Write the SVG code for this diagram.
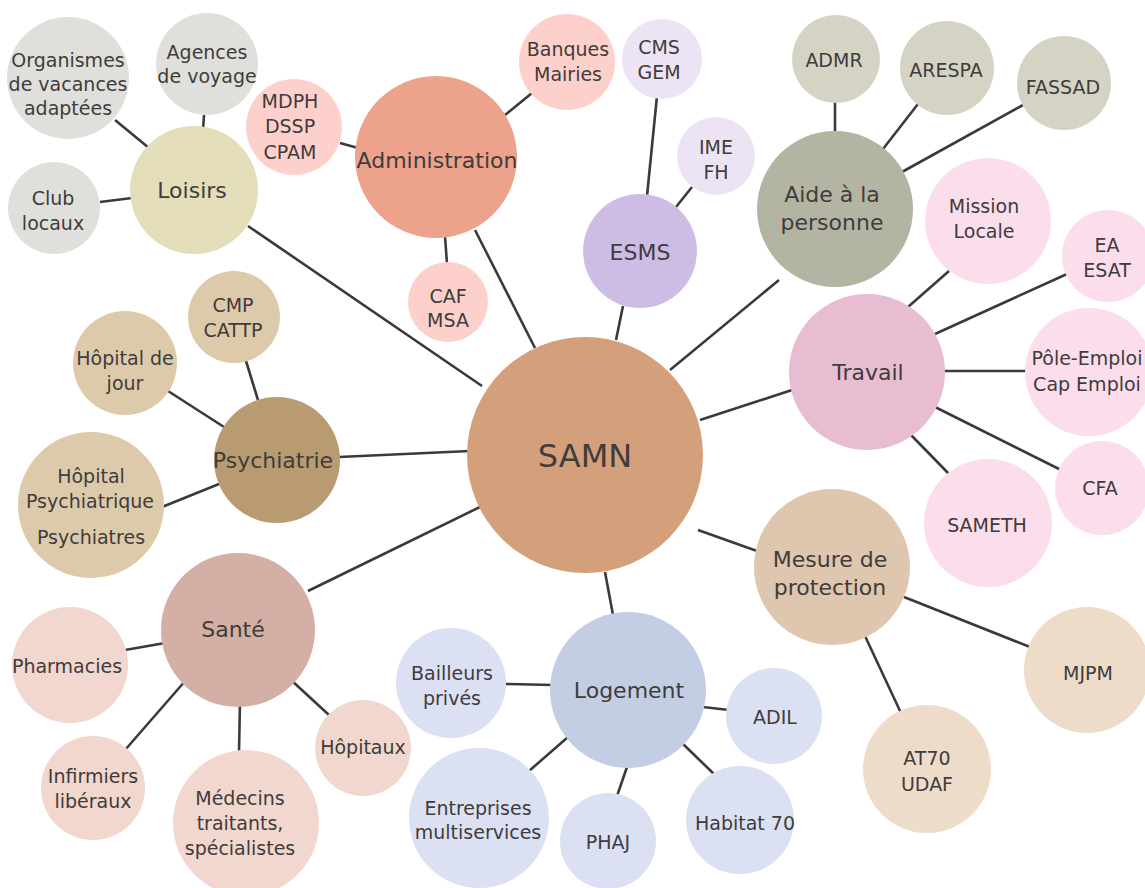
<svg xmlns="http://www.w3.org/2000/svg" width="1145" height="888" viewBox="0 0 1145 888">
<style>
.c line{stroke:#3a3a3a;stroke-width:2.6;stroke-linecap:butt}
text{font-family:"DejaVu Sans","Liberation Sans",sans-serif;fill:#3f3c3c;text-anchor:middle}
.h text{font-size:22px}
.l text{font-size:19px}
</style>
<rect width="1145" height="888" fill="#ffffff"/>
<g class="c" id="connectors">
<line x1="248" y1="226" x2="482" y2="386"/>
<line x1="475" y1="230" x2="535" y2="348"/>
<line x1="623" y1="306" x2="616" y2="340"/>
<line x1="779" y1="280" x2="670" y2="370"/>
<line x1="792" y1="390" x2="700" y2="420"/>
<line x1="757" y1="551" x2="698" y2="530"/>
<line x1="613" y1="615" x2="605" y2="572"/>
<line x1="308" y1="591" x2="482" y2="506"/>
<line x1="339" y1="457" x2="470" y2="451"/>
<line x1="115" y1="120" x2="149" y2="148"/>
<line x1="204" y1="115" x2="203" y2="130"/>
<line x1="100" y1="202" x2="132" y2="198"/>
<line x1="340" y1="143" x2="358" y2="148"/>
<line x1="505" y1="115" x2="532" y2="93"/>
<line x1="445" y1="236" x2="447" y2="264"/>
<line x1="657" y1="96" x2="647" y2="196"/>
<line x1="692" y1="187" x2="676" y2="207"/>
<line x1="835" y1="101" x2="835" y2="133"/>
<line x1="918" y1="104" x2="883" y2="149"/>
<line x1="1023" y1="105" x2="902" y2="172"/>
<line x1="949" y1="271" x2="908" y2="307"/>
<line x1="1067" y1="274" x2="935" y2="334"/>
<line x1="944" y1="371" x2="1027" y2="371"/>
<line x1="935" y1="407" x2="1061" y2="470"/>
<line x1="911" y1="435" x2="950" y2="475"/>
<line x1="904" y1="597" x2="1030" y2="647"/>
<line x1="865" y1="636" x2="901" y2="713"/>
<line x1="506" y1="684" x2="553" y2="685"/>
<line x1="703" y1="707" x2="729" y2="710"/>
<line x1="529" y1="771" x2="568" y2="737"/>
<line x1="617" y1="796" x2="627" y2="767"/>
<line x1="683" y1="744" x2="715" y2="775"/>
<line x1="125" y1="650" x2="165" y2="643"/>
<line x1="125" y1="750" x2="186" y2="680"/>
<line x1="239" y1="752" x2="240" y2="701"/>
<line x1="329" y1="715" x2="291" y2="680"/>
<line x1="246" y1="361" x2="258" y2="400"/>
<line x1="168" y1="391" x2="224" y2="427"/>
<line x1="162" y1="507" x2="219" y2="484"/>
</g>

<g id="samn"><circle cx="585" cy="455" r="118" fill="#D3A07B"/><text x="585" y="467" style="font-size:32px">SAMN</text></g>

<g id="loisirs" class="h"><circle cx="194" cy="190" r="64" fill="#E3DEB9"/><text x="192" y="198">Loisirs</text></g>
<g id="organismes" class="l"><circle cx="68" cy="78" r="61" fill="#DFDFDB"/><text x="68" y="67">Organismes</text><text x="68" y="91">de vacances</text><text x="68" y="115">adaptées</text></g>
<g id="agences" class="l"><circle cx="207" cy="64" r="51" fill="#DFDFDB"/><text x="207" y="59">Agences</text><text x="207" y="83">de voyage</text></g>
<g id="club" class="l"><circle cx="54" cy="208" r="46" fill="#DFDFDB"/><text x="53" y="205">Club</text><text x="53" y="230">locaux</text></g>

<g id="administration" class="h"><circle cx="436" cy="157" r="81" fill="#EDA28B"/><text x="437" y="168">Administration</text></g>
<g id="mdph" class="l"><circle cx="294" cy="127" r="48" fill="#FDD0CB"/><text x="290" y="108">MDPH</text><text x="290" y="133">DSSP</text><text x="290" y="159">CPAM</text></g>
<g id="banques" class="l"><circle cx="567" cy="62" r="48" fill="#FDD0CB"/><text x="568" y="56">Banques</text><text x="568" y="81">Mairies</text></g>
<g id="caf" class="l"><circle cx="448" cy="302" r="40" fill="#FDD0CB"/><text x="448" y="303">CAF</text><text x="448" y="327">MSA</text></g>

<g id="esms" class="h"><circle cx="640" cy="251" r="57" fill="#CDBDE5"/><text x="640" y="260">ESMS</text></g>
<g id="cms" class="l"><circle cx="662" cy="59" r="40" fill="#ECE3F5"/><text x="659" y="54">CMS</text><text x="659" y="79">GEM</text></g>
<g id="ime" class="l"><circle cx="716" cy="156" r="39" fill="#ECE3F5"/><text x="716" y="154">IME</text><text x="716" y="179">FH</text></g>

<g id="aide" class="h"><circle cx="835" cy="209" r="78" fill="#B4B4A2"/><text x="832" y="202">Aide à la</text><text x="832" y="230">personne</text></g>
<g id="admr" class="l"><circle cx="836" cy="59" r="44" fill="#D5D4C4"/><text x="834" y="67">ADMR</text></g>
<g id="arespa" class="l"><circle cx="947" cy="68" r="47" fill="#D5D4C4"/><text x="946" y="77">ARESPA</text></g>
<g id="fassad" class="l"><circle cx="1064" cy="83" r="47" fill="#D5D4C4"/><text x="1063" y="94">FASSAD</text></g>

<g id="travail" class="h"><circle cx="867" cy="372" r="78" fill="#E8BDD1"/><text x="868" y="380">Travail</text></g>
<g id="mission" class="l"><circle cx="988" cy="221" r="63" fill="#FCDDEB"/><text x="984" y="213">Mission</text><text x="984" y="238">Locale</text></g>
<g id="ea" class="l"><circle cx="1108" cy="256" r="46" fill="#FCDDEB"/><text x="1107" y="252">EA</text><text x="1107" y="277">ESAT</text></g>
<g id="pole" class="l"><circle cx="1089" cy="372" r="64" fill="#FCDDEB"/><text x="1087" y="365">Pôle-Emploi</text><text x="1087" y="391">Cap Emploi</text></g>
<g id="cfa" class="l"><circle cx="1102" cy="488" r="47" fill="#FCDDEB"/><text x="1100" y="495">CFA</text></g>
<g id="sameth" class="l"><circle cx="988" cy="523" r="64" fill="#FCDDEB"/><text x="987" y="532">SAMETH</text></g>

<g id="mesure" class="h"><circle cx="832" cy="567" r="78" fill="#DEC6AF"/><text x="830" y="567">Mesure de</text><text x="830" y="595">protection</text></g>
<g id="mjpm" class="l"><circle cx="1087" cy="670" r="63" fill="#EEDCCB"/><text x="1088" y="680">MJPM</text></g>
<g id="at70" class="l"><circle cx="927" cy="769" r="64" fill="#EEDCCB"/><text x="927" y="765">AT70</text><text x="927" y="791">UDAF</text></g>

<g id="logement" class="h"><circle cx="628" cy="690" r="78" fill="#C3CDE3"/><text x="629" y="698">Logement</text></g>
<g id="bailleurs" class="l"><circle cx="451" cy="683" r="55" fill="#DBE1F3"/><text x="452" y="680">Bailleurs</text><text x="452" y="705">privés</text></g>
<g id="adil" class="l"><circle cx="774" cy="716" r="48" fill="#DBE1F3"/><text x="775" y="724">ADIL</text></g>
<g id="habitat" class="l"><circle cx="740" cy="820" r="54" fill="#DBE1F3"/><text x="745" y="830">Habitat 70</text></g>
<g id="phaj" class="l"><circle cx="608" cy="841" r="48" fill="#DBE1F3"/><text x="608" y="849">PHAJ</text></g>
<g id="entreprises" class="l"><circle cx="479" cy="818" r="70" fill="#DBE1F3"/><text x="478" y="815">Entreprises</text><text x="478" y="839">multiservices</text></g>

<g id="sante" class="h"><circle cx="238" cy="630" r="77" fill="#D3AFA5"/><text x="233" y="637">Santé</text></g>
<g id="pharmacies" class="l"><circle cx="70" cy="665" r="58" fill="#F1D7CE"/><text x="67" y="673">Pharmacies</text></g>
<g id="infirmiers" class="l"><circle cx="93" cy="788" r="52" fill="#F1D7CE"/><text x="93" y="783">Infirmiers</text><text x="93" y="808">libéraux</text></g>
<g id="medecins" class="l"><circle cx="246" cy="823" r="73" fill="#F1D7CE"/><text x="240" y="805">Médecins</text><text x="240" y="830">traitants,</text><text x="240" y="855">spécialistes</text></g>
<g id="hopitaux" class="l"><circle cx="363" cy="748" r="48" fill="#F1D7CE"/><text x="363" y="754">Hôpitaux</text></g>

<g id="psychiatrie" class="h"><circle cx="277" cy="460" r="63" fill="#B99B72"/><text x="273" y="468">Psychiatrie</text></g>
<g id="cmp" class="l"><circle cx="234" cy="317" r="46" fill="#DDCAAB"/><text x="233" y="312">CMP</text><text x="233" y="337">CATTP</text></g>
<g id="hdj" class="l"><circle cx="125" cy="363" r="52" fill="#DDCAAB"/><text x="125" y="365">Hôpital de</text><text x="125" y="390">jour</text></g>
<g id="hp" class="l"><circle cx="91" cy="505" r="73" fill="#DDCAAB"/><text x="91" y="483">Hôpital</text><text x="90" y="508">Psychiatrique</text><text x="91" y="544">Psychiatres</text></g>
</svg>
